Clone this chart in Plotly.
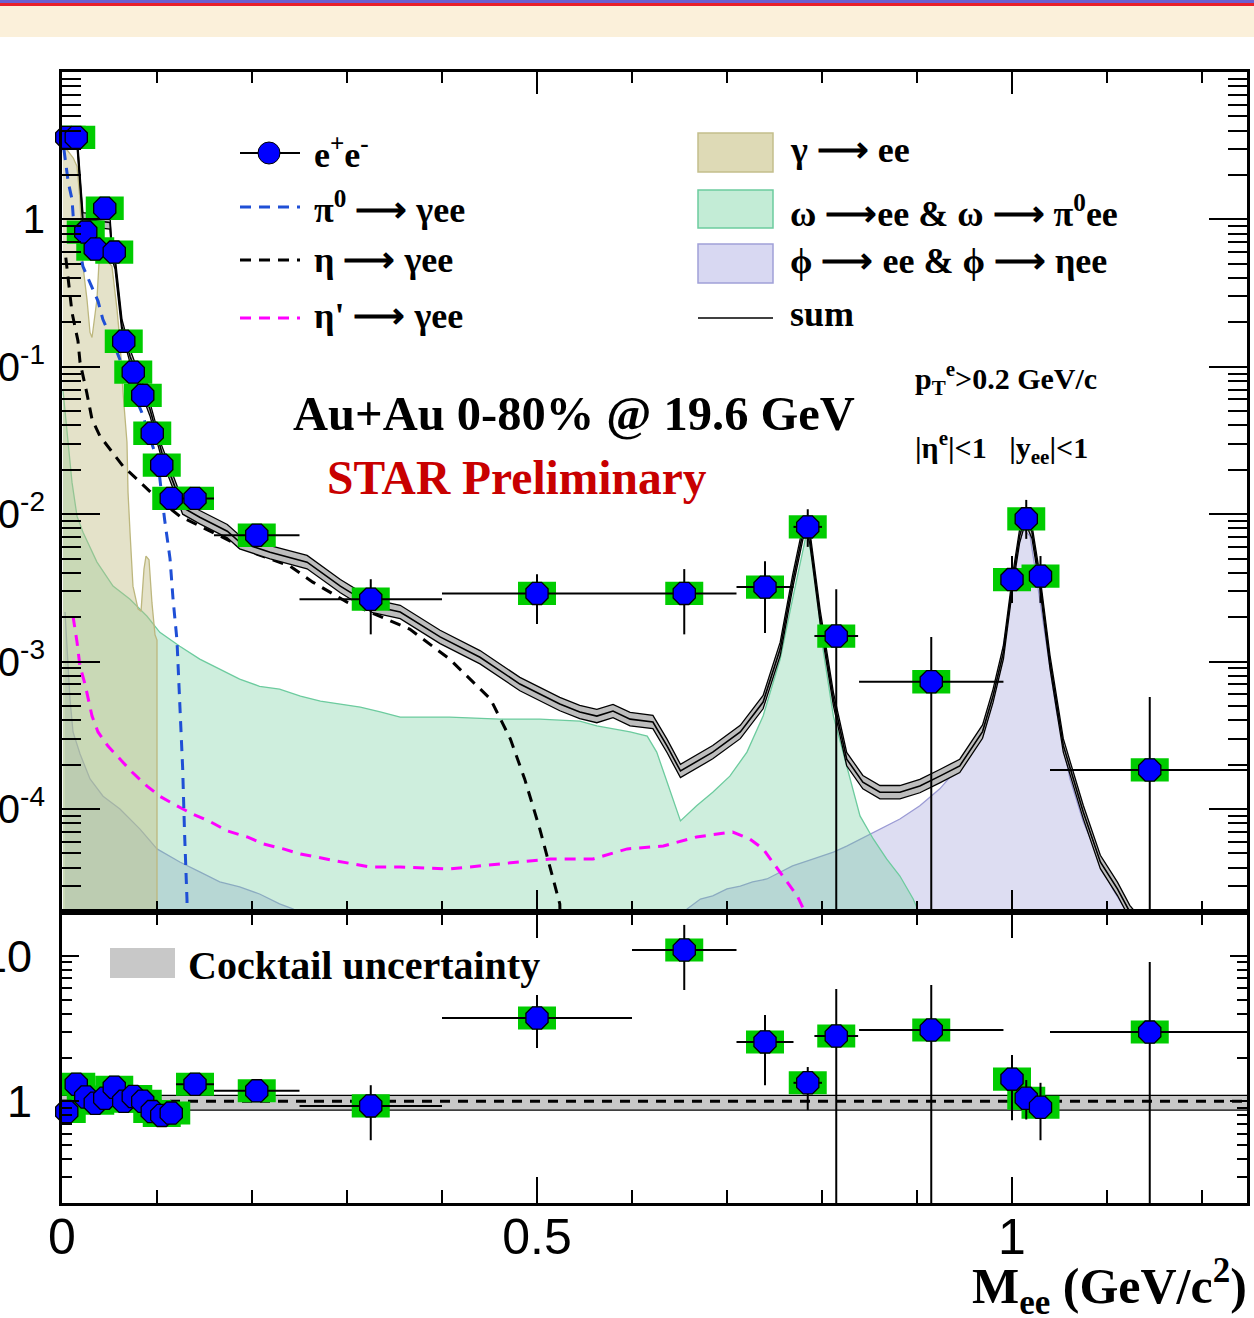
import math
import plotly.graph_objects as go
from plotly.subplots import make_subplots

# ---------------- measured e+e- pairs ----------------
mass = [0.005, 0.015, 0.025, 0.035, 0.045, 0.055, 0.065, 0.075, 0.085, 0.095, 0.105, 0.115,
        0.14, 0.205, 0.325, 0.5, 0.655, 0.74, 0.785, 0.815, 0.915, 1.0, 1.015, 1.03, 1.145]
mass_halfwidth = [0.005, 0.005, 0.005, 0.005, 0.005, 0.005, 0.005, 0.005, 0.005, 0.005, 0.005, 0.005,
                  0.02, 0.045, 0.075, 0.1, 0.055, 0.03, 0.015, 0.023, 0.076, 0.005, 0.005, 0.005, 0.105]
yield_val = [3.6, 3.6, 0.82, 0.63, 1.19, 0.60, 0.149, 0.092, 0.064, 0.0354, 0.0215, 0.0128,
             0.0128, 0.0072, 0.00265, 0.0029, 0.0029, 0.0032, 0.0082, 0.00149, 7.3e-4, 0.0036,
             0.0093, 0.0038, 1.84e-4]
yield_hi = [3.7, 3.7, 0.85, 0.65, 1.23, 0.62, 0.155, 0.096, 0.067, 0.037, 0.0226, 0.0135,
            0.0135, 0.0078, 0.00362, 0.00392, 0.00424, 0.0048, 0.0108, 0.0031, 0.00147, 0.0052,
            0.0125, 0.0052, 5.74e-4]
yield_lo = [3.5, 3.5, 0.79, 0.61, 1.15, 0.58, 0.143, 0.088, 0.061, 0.0338, 0.0204, 0.0121,
            0.0121, 0.0066, 0.00153, 0.0018, 0.00153, 0.00156, 0.006, 1e-7, 1e-7, 0.0025,
            0.0068, 0.0025, 1e-7]

# data / cocktail
ratio_val = [0.85, 1.31, 1.07, 0.97, 1.05, 1.25, 1.0, 1.08, 1.0, 0.85, 0.80, 0.83,
             1.31, 1.18, 0.93, 3.74, 10.96, 2.56, 1.34, 2.81, 3.09, 1.42, 1.05, 0.91, 2.99]
ratio_hi = [0.88, 1.35, 1.11, 1.0, 1.09, 1.29, 1.04, 1.12, 1.04, 0.88, 0.83, 0.86,
            1.36, 1.25, 1.29, 5.38, 16.3, 3.92, 1.72, 5.92, 6.3, 2.08, 1.4, 1.34, 9.06]
ratio_lo = [0.82, 1.27, 1.03, 0.94, 1.01, 1.21, 0.96, 1.04, 0.96, 0.82, 0.77, 0.80,
            1.26, 1.11, 0.54, 2.32, 5.82, 1.29, 0.87, 1e-3, 1e-3, 0.74, 0.75, 0.54, 1e-3]
SYS_FACTOR = 1.2          # half-height of the systematic boxes (multiplicative)

# ---------------- hadronic cocktail ----------------
PI0 = [(0.002, 3.0), (0.004, 2.4), (0.0066, 1.78), (0.0105, 1.37), (0.0118, 1.05), (0.022, 0.48),
       (0.0295, 0.374), (0.038, 0.278), (0.043, 0.21), (0.055, 0.14), (0.07, 0.08), (0.084, 0.049),
       (0.101, 0.0225), (0.108, 0.0092), (0.1137, 0.005), (0.1168, 0.0027), (0.121, 0.0014),
       (0.124, 5.6e-4), (0.127, 1.9e-4), (0.129, 6.9e-5), (0.1316, 2.4e-5), (0.134, 1e-8)]
ETA = [(0.004, 0.55), (0.0105, 0.234), (0.0168, 0.15), (0.019, 0.107), (0.026, 0.067),
       (0.0316, 0.044), (0.04, 0.0338), (0.0505, 0.0276), (0.0642, 0.0212), (0.0789, 0.0173),
       (0.0979, 0.0132), (0.124, 0.00969), (0.174, 0.00677), (0.205, 0.00536), (0.24, 0.00444),
       (0.264, 0.00346), (0.3, 0.00253), (0.348, 0.00185), (0.366, 0.00166), (0.408, 0.00104),
       (0.451, 5.57e-4), (0.472, 2.98e-4), (0.487, 1.6e-4), (0.503, 7.3e-5), (0.514, 3.9e-5),
       (0.524, 2.27e-5), (0.535, 1e-8)]
ETAP = [(0.0116, 2.03e-3), (0.0158, 1.36e-3), (0.0189, 9.3e-4), (0.0242, 7.04e-4), (0.0316, 4.27e-4),
        (0.0379, 3.33e-4), (0.0484, 2.67e-4), (0.0611, 2.18e-4), (0.0737, 1.78e-4), (0.0895, 1.43e-4),
        (0.103, 1.22e-4), (0.121, 1.05e-4), (0.138, 9.2e-5), (0.156, 8.2e-5), (0.174, 7.1e-5),
        (0.195, 6.46e-5), (0.212, 5.79e-5), (0.233, 5.36e-5), (0.251, 4.95e-5), (0.289, 4.44e-5),
        (0.324, 4.04e-5), (0.356, 4.04e-5), (0.408, 3.92e-5), (0.461, 4.24e-5), (0.514, 4.58e-5),
        (0.559, 4.58e-5), (0.595, 5.36e-5), (0.633, 5.61e-5), (0.668, 6.46e-5), (0.706, 6.98e-5),
        (0.724, 6.26e-5), (0.738, 5.36e-5), (0.751, 4.11e-5), (0.763, 3.2e-5), (0.774, 2.57e-5),
        (0.782, 2.0e-5), (0.79, 1e-8)]
GAMMA = [(0.001, 2.98), (0.005, 2.98), (0.012, 2.6), (0.0158, 2.29), (0.0189, 1.37), (0.0221, 0.48),
         (0.0263, 0.287), (0.0295, 0.171), (0.0316, 0.158), (0.0347, 0.227), (0.0368, 0.287),
         (0.039, 0.519), (0.045, 0.553), (0.0526, 0.48), (0.0579, 0.245), (0.0611, 0.147),
         (0.0642, 0.0672), (0.0684, 0.0308), (0.0695, 0.0141), (0.0716, 0.00755), (0.0747, 0.00325),
         (0.08, 0.00228), (0.0832, 0.0022), (0.0863, 0.00424), (0.0884, 0.0052), (0.0916, 0.0049),
         (0.0947, 0.0025), (0.0979, 0.00152), (0.1, 0.0014)]
OMEGA = [(0.001, 0.07), (0.0053, 0.036), (0.0105, 0.0165), (0.0158, 0.0097), (0.0221, 0.00755),
         (0.0368, 0.00473), (0.0537, 0.00325), (0.0716, 0.00265), (0.0895, 0.00203), (0.103, 0.00158),
         (0.124, 0.00127), (0.145, 0.00104), (0.166, 8.9e-4), (0.187, 7.6e-4), (0.208, 6.8e-4),
         (0.229, 6.5e-4), (0.251, 5.84e-4), (0.272, 5.4e-4), (0.293, 5.15e-4), (0.314, 4.91e-4),
         (0.335, 4.55e-4), (0.356, 4.2e-4), (0.408, 4.2e-4), (0.461, 4.07e-4), (0.503, 4.07e-4),
         (0.545, 3.95e-4), (0.563, 3.66e-4), (0.58, 3.49e-4), (0.598, 3.33e-4), (0.616, 3.12e-4),
         (0.626, 2.43e-4), (0.637, 1.52e-4), (0.651, 8.3e-5), (0.668, 1.05e-4), (0.685, 1.3e-4),
         (0.703, 1.67e-4), (0.721, 2.43e-4), (0.738, 4.27e-4), (0.756, 1.04e-3), (0.769, 2.65e-3),
         (0.779, 5.52e-3), (0.784, 7.55e-3), (0.791, 4.44e-3), (0.801, 1.22e-3), (0.812, 4.27e-4),
         (0.826, 1.96e-4), (0.84, 8.97e-5), (0.854, 6.26e-5), (0.868, 4.58e-5), (0.882, 3.51e-5),
         (0.896, 2.45e-5), (0.901, 2.06e-5)]
PHI = [(0.0032, 2.17e-3), (0.0053, 1.22e-3), (0.0084, 5.57e-4), (0.0116, 3.33e-4), (0.019, 2.36e-4),
       (0.0295, 1.6e-4), (0.0432, 1.22e-4), (0.061, 1.0e-4), (0.0821, 7.3e-5), (0.1, 5.36e-5),
       (0.124, 4.37e-5), (0.145, 3.74e-5), (0.166, 3.2e-5), (0.187, 2.96e-5), (0.208, 2.65e-5),
       (0.229, 2.27e-5), (0.243, 2.1e-5), (0.26, 1.8e-5), (0.65, 1.8e-5), (0.658, 2.1e-5),
       (0.672, 2.45e-5), (0.685, 2.57e-5), (0.7, 2.87e-5), (0.714, 3.0e-5), (0.727, 3.2e-5),
       (0.742, 3.35e-5), (0.756, 3.74e-5), (0.769, 4.11e-5), (0.791, 4.58e-5), (0.812, 5.1e-5),
       (0.826, 5.6e-5), (0.847, 6.56e-5), (0.861, 7.3e-5), (0.882, 8.55e-5), (0.903, 1.05e-4),
       (0.924, 1.37e-4), (0.945, 1.96e-4), (0.963, 2.98e-4), (0.977, 4.77e-4), (0.987, 9.3e-4),
       (0.998, 2.38e-3), (1.005, 5.52e-3), (1.012, 7.91e-3), (1.019, 7.1e-3), (1.026, 3.62e-3),
       (1.037, 1.27e-3), (1.047, 4.55e-4), (1.061, 1.6e-4), (1.075, 8.2e-5), (1.093, 4.37e-5),
       (1.106, 2.87e-5), (1.117, 2.2e-5), (1.124, 1.9e-5)]
SUM = [(0.003, 3.6), (0.016, 3.33), (0.022, 1.0), (0.0505, 0.954), (0.0526, 0.597), (0.0558, 0.511),
       (0.0632, 0.188), (0.0716, 0.118), (0.0926, 0.0515), (0.105, 0.0263), (0.117, 0.0165),
       (0.127, 0.0111), (0.145, 0.00954), (0.174, 0.00767), (0.187, 0.00646), (0.219, 0.00552),
       (0.258, 0.00473), (0.293, 0.00325), (0.327, 0.00238), (0.356, 0.00217), (0.398, 0.00147),
       (0.44, 0.00107), (0.482, 7.04e-4), (0.524, 5.15e-4), (0.545, 4.55e-4), (0.563, 4.27e-4),
       (0.58, 4.62e-4), (0.598, 4.07e-4), (0.622, 3.89e-4), (0.637, 2.67e-4), (0.651, 1.81e-4),
       (0.685, 2.43e-4), (0.714, 3.33e-4), (0.738, 5.31e-4), (0.756, 1.22e-3), (0.769, 3.46e-3),
       (0.78, 7.55e-3), (0.784, 8.3e-3), (0.787, 7.1e-3), (0.798, 2.03e-3), (0.812, 5.57e-4),
       (0.826, 2.18e-4), (0.843, 1.52e-4), (0.861, 1.3e-4), (0.882, 1.3e-4), (0.903, 1.43e-4),
       (0.924, 1.67e-4), (0.945, 1.96e-4), (0.969, 3.35e-4), (0.98, 5.84e-4), (0.991, 1.16e-3),
       (1.001, 3.62e-3), (1.008, 7.1e-3), (1.014, 9.69e-3), (1.021, 7.6e-3), (1.029, 3.62e-3),
       (1.04, 9.93e-4), (1.054, 2.7e-4), (1.075, 9.55e-5), (1.093, 4.37e-5), (1.111, 2.87e-5),
       (1.124, 2.0e-5), (1.14, 1.5e-5)]
SUM_REL_UNC = 0.11        # cocktail uncertainty (relative)
RATIO_BAND = (0.87, 1.10)  # cocktail uncertainty around unity

# ---------------- page geometry ----------------
W, H = 1254, 1318
ML, MR, MT, MB = 62, 7, 72, 115
PW, PH = W - ML - MR, H - MT - MB
TOP_H, BOT_H = 840, 291
SERIF = "Liberation Serif"
SANS = "Liberation Sans"
ARROW = "⟶"


def pxx(x):
    return (x - ML) / PW


def pxy(y):
    return 1 - (y - MT) / PH


def unzip(pairs):
    return [p[0] for p in pairs], [p[1] for p in pairs]


def closed_area(m, v, floor=1e-9):
    return list(m) + list(m)[::-1], list(v) + [floor] * len(m)


fig = make_subplots(rows=2, cols=1, shared_xaxes=True, vertical_spacing=0,
                    row_heights=[TOP_H, BOT_H])

# filled cocktail components
areas = [
    (PHI, "rgba(160,160,220,0.36)", "#9a9ad4"),
    (OMEGA, "rgba(110,205,155,0.34)", "#6ccb9e"),
    (GAMMA, "rgba(195,190,135,0.45)", "#bdb77e"),
]
for pairs, fc, lc in areas:
    m, v = unzip(pairs)
    xs, ys = closed_area(m, v)
    fig.add_trace(go.Scatter(x=xs, y=ys, mode="lines", fill="toself", fillcolor=fc,
                             line=dict(color=lc, width=1.3), hoverinfo="skip"), row=1, col=1)

# Dalitz decays
for pairs, col in [(ETAP, "#ff00ff"), (ETA, "#000000"), (PI0, "#1f4fd6")]:
    m, v = unzip(pairs)
    fig.add_trace(go.Scatter(x=m, y=v, mode="lines",
                             line=dict(color=col, width=3, dash="11px,8px"),
                             hoverinfo="skip"), row=1, col=1)

# cocktail sum with its uncertainty band
sm, sv = unzip(SUM)
s_up = [v * (1 + SUM_REL_UNC) for v in sv]
s_dn = [v / (1 + SUM_REL_UNC) for v in sv]
fig.add_trace(go.Scatter(x=sm + sm[::-1], y=s_up + s_dn[::-1], mode="lines", fill="toself",
                         fillcolor="#bdbdbd", line=dict(width=0), hoverinfo="skip"), row=1, col=1)
for yy, wdt in [(s_up, 1.3), (s_dn, 1.3), (sv, 1.6)]:
    fig.add_trace(go.Scatter(x=sm, y=yy, mode="lines", line=dict(color="black", width=wdt),
                             hoverinfo="skip"), row=1, col=1)


def add_points(vals, hi, lo, row):
    sys_up = [v * SYS_FACTOR - v for v in vals]
    sys_dn = [v - v / SYS_FACTOR for v in vals]
    # systematic boxes
    fig.add_trace(go.Scatter(x=mass, y=vals, mode="markers", cliponaxis=False,
                             marker=dict(size=1, opacity=0),
                             error_y=dict(type="data", symmetric=False, array=sys_up,
                                          arrayminus=sys_dn, thickness=38, width=0,
                                          color="#00cc00"),
                             hoverinfo="skip"), row=row, col=1)
    # statistical errors
    fig.add_trace(go.Scatter(x=mass, y=vals, mode="markers",
                             marker=dict(size=1, opacity=0),
                             error_x=dict(type="data", array=mass_halfwidth, thickness=2,
                                          width=0, color="black"),
                             error_y=dict(type="data", symmetric=False,
                                          array=[h - v for h, v in zip(hi, vals)],
                                          arrayminus=[v - l for v, l in zip(vals, lo)],
                                          thickness=2, width=0, color="black"),
                             hoverinfo="skip"), row=row, col=1)
    fig.add_trace(go.Scatter(x=mass, y=vals, mode="markers", cliponaxis=False,
                             marker=dict(symbol="octagon", size=24, color="#0000ff",
                                         line=dict(color="black", width=1.3)),
                             hoverinfo="skip"), row=row, col=1)


add_points(yield_val, yield_hi, yield_lo, 1)

# ratio panel: cocktail band and unity line
bx = [0.0, 1.26]
fig.add_trace(go.Scatter(x=bx + bx[::-1], y=[RATIO_BAND[1]] * 2 + [RATIO_BAND[0]] * 2,
                         mode="lines", fill="toself", fillcolor="#c8c8c8",
                         line=dict(color="black", width=1.3), hoverinfo="skip"), row=2, col=1)
fig.add_trace(go.Scatter(x=bx, y=[1, 1], mode="lines",
                         line=dict(color="black", width=3, dash="10px,8px"),
                         hoverinfo="skip"), row=2, col=1)
add_points(ratio_val, ratio_hi, ratio_lo, 2)

# ---------------- axes ----------------
x_major = [0, 0.5, 1.0]
x_minor = [0.1, 0.2, 0.3, 0.4, 0.6, 0.7, 0.8, 0.9, 1.1, 1.2]
common_x = dict(range=[0, PW / 950.0], showgrid=False, zeroline=False, showline=True,
                linecolor="black", linewidth=3, mirror="ticks", ticks="inside",
                tickvals=x_major, tickcolor="black", tickwidth=2, automargin=False)
fig.update_xaxes(**common_x, ticklen=22, showticklabels=False,
                 minor=dict(tickvals=x_minor, ticks="inside", ticklen=11, tickwidth=2,
                            tickcolor="black", showgrid=False), row=1, col=1)
fig.update_xaxes(**common_x, ticklen=26, ticktext=["0", "0.5", "1"],
                 tickfont=dict(family=SANS, size=50, color="black"), ticklabelstandoff=-12,
                 minor=dict(tickvals=x_minor, ticks="inside", ticklen=13, tickwidth=2,
                            tickcolor="black", showgrid=False), row=2, col=1)

top_major = [1e-4, 1e-3, 1e-2, 1e-1, 1]
top_minor = [k * 10.0 ** e for e in range(-5, 1) for k in range(2, 10)]
fig.update_yaxes(type="log", range=[math.log10(2e-5), 1.0], showgrid=False, zeroline=False,
                 showline=True, linecolor="black", linewidth=3, mirror="ticks",
                 ticks="inside", ticklen=38, tickwidth=2, tickcolor="black", automargin=False,
                 tickvals=top_major,
                 ticktext=["10<sup>-4</sup>", "10<sup>-3</sup>", "10<sup>-2</sup>",
                           "10<sup>-1</sup>", "1"],
                 tickfont=dict(family=SANS, size=40, color="black"), ticklabelstandoff=6,
                 minor=dict(tickvals=top_minor, ticks="inside", ticklen=19, tickwidth=2,
                            tickcolor="black", showgrid=False), row=1, col=1)
bot_minor = [0.2, 0.3, 0.4, 0.5, 0.6, 0.7, 0.8, 0.9, 2, 3, 4, 5, 6, 7, 8, 9, 20]
fig.update_yaxes(type="log", range=[math.log10(0.2), math.log10(20)], showgrid=False,
                 zeroline=False, showline=True, linecolor="black", linewidth=3, mirror="ticks",
                 ticks="inside", ticklen=17, tickwidth=2, tickcolor="black", automargin=False,
                 tickvals=[1, 10], ticktext=["1", "10"],
                 tickfont=dict(family=SANS, size=45, color="black"), ticklabelstandoff=18,
                 minor=dict(tickvals=bot_minor, ticks="inside", ticklen=10, tickwidth=2,
                            tickcolor="black", showgrid=False), row=2, col=1)

# ---------------- decorations: banner, legends, labels ----------------
shapes = [
    dict(type="rect", xref="paper", yref="paper", x0=-0.1, x1=1.1, y0=pxy(6), y1=pxy(37),
         fillcolor="#fbf0da", line_width=0, layer="below"),
    dict(type="rect", xref="paper", yref="paper", x0=-0.1, x1=1.1, y0=pxy(3), y1=pxy(6),
         fillcolor="#e8202a", line_width=0),
    dict(type="rect", xref="paper", yref="paper", x0=-0.1, x1=1.1, y0=pxy(-2), y1=pxy(3),
         fillcolor="#6b5fd0", line_width=0),
]


def hline(x0, x1, y, color, width, dash="solid"):
    return dict(type="line", xref="paper", yref="paper", x0=pxx(x0), x1=pxx(x1),
                y0=pxy(y), y1=pxy(y), line=dict(color=color, width=width, dash=dash))


def box(x0, x1, y0, y1, fill, edge, width=1.5):
    return dict(type="rect", xref="paper", yref="paper", x0=pxx(x0), x1=pxx(x1),
                y0=pxy(y1), y1=pxy(y0), fillcolor=fill, line=dict(color=edge, width=width))


shapes += [
    hline(240, 300, 153, "black", 2),
    dict(type="circle", xref="paper", yref="paper", x0=pxx(258), x1=pxx(280),
         y0=pxy(164), y1=pxy(142), fillcolor="#0000ff", line=dict(color="black", width=1)),
    hline(240, 300, 207, "#1f4fd6", 3, "11px,8px"),
    hline(240, 300, 260, "black", 3, "11px,8px"),
    hline(240, 300, 318, "#ff00ff", 3, "11px,8px"),
    box(698, 773, 133, 172, "#dedab6", "#c4bf8c"),
    box(698, 773, 190, 228, "#c3ecd6", "#6ccb9e"),
    box(698, 773, 244, 283, "#d8d8f2", "#a0a0d8"),
    hline(698, 773, 318, "black", 1.5),
    box(110, 175, 948, 978, "#c8c8c8", "#c8c8c8", 0),
]


def label(text, x, y, size, color="black", xanchor="left"):
    return dict(text=text, x=pxx(x), y=pxy(y), xref="paper", yref="paper", showarrow=False,
                xanchor=xanchor, yanchor="middle",
                font=dict(family=SERIF, size=size, color=color))


annotations = [
    label("<b>e<sup>+</sup>e<sup>-</sup></b>", 312, 153, 36),
    label(f"<b>π<sup>0</sup> {ARROW} γee</b>", 312, 207, 36),
    label(f"<b>η {ARROW} γee</b>", 312, 260, 36),
    label(f"<b>η' {ARROW} γee</b>", 312, 316, 36),
    label(f"<b>γ {ARROW} ee</b>", 788, 150, 36),
    label(f"<b>ω {ARROW}ee &amp; ω {ARROW} π<sup>0</sup>ee</b>", 788, 211, 36),
    label(f"<b>ϕ {ARROW} ee &amp; ϕ {ARROW} ηee</b>", 788, 261, 36),
    label("<b>sum</b>", 788, 314, 36),
    label("<b>Au+Au 0-80% @ 19.6 GeV</b>", 574, 413, 48.5, xanchor="center"),
    label("<b>STAR Preliminary</b>", 517, 478, 47.5, color="#c80000", xanchor="center"),
    label("<b>p<sub>T</sub><sup>e</sup>&gt;0.2 GeV/c</b>", 913, 378, 30),
    label("<b>|η<sup>e</sup>|&lt;1&nbsp;&nbsp;&nbsp;|y<sub>ee</sub>|&lt;1</b>", 913, 447, 30),
    label("<b>Cocktail uncertainty</b>", 186, 965, 40),
    label("<b>M<sub>ee</sub> (GeV/c<sup>2</sup>)</b>", 1249, 1286, 50, xanchor="right"),
]

fig.update_layout(width=W, height=H, margin=dict(l=ML, r=MR, t=MT, b=MB, autoexpand=False),
                  plot_bgcolor="white", paper_bgcolor="white", showlegend=False,
                  hovermode=False, shapes=shapes, annotations=annotations)

fig.write_html("out.html", config={"displayModeBar": False})
